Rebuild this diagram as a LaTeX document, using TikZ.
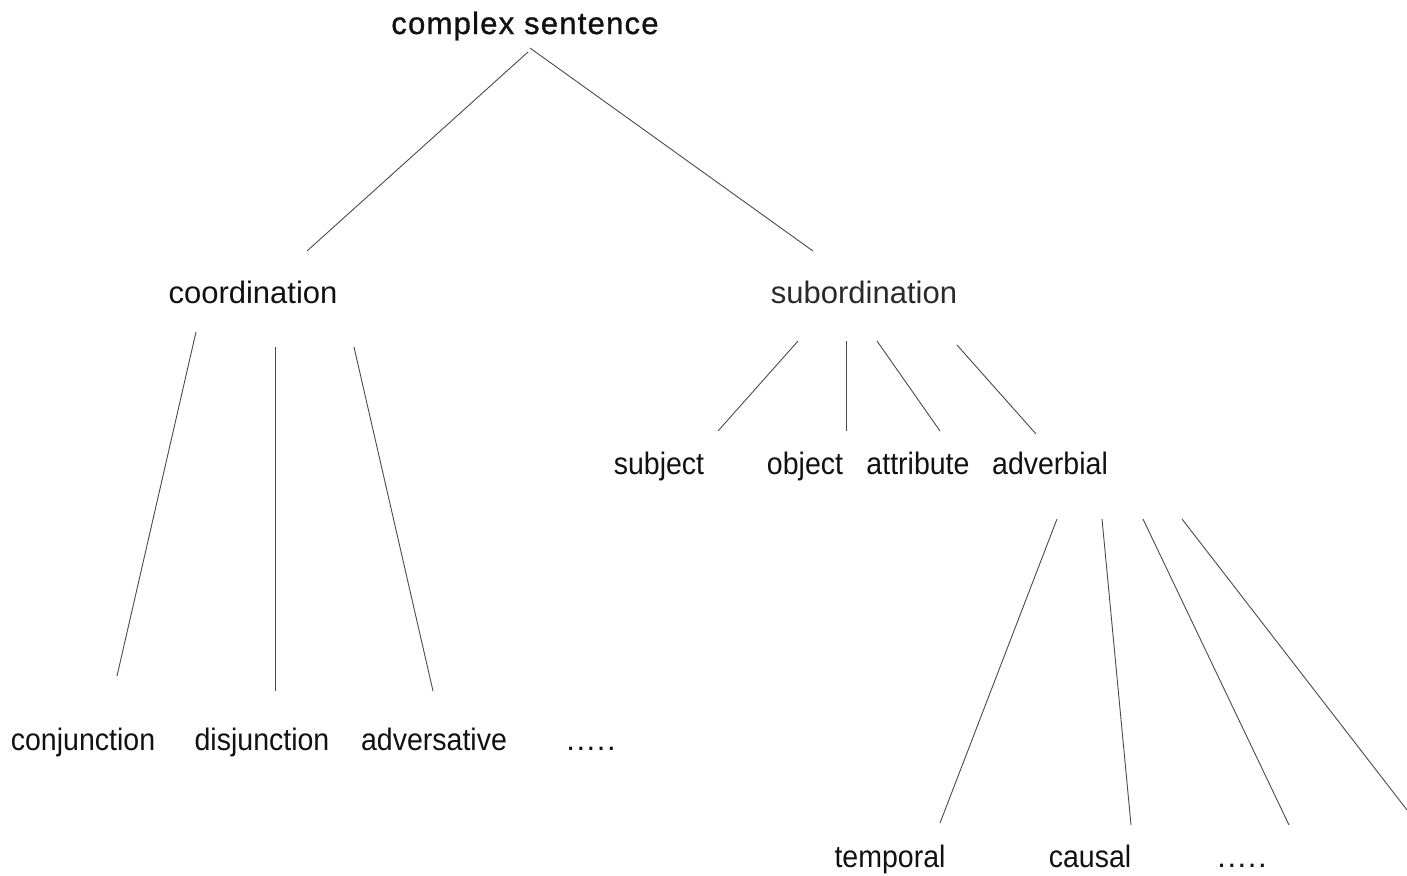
\documentclass[tikz,border=0pt]{standalone}
\usepackage{fontspec}
\setmainfont{Liberation Sans}
\usepackage{xcolor}
\usepackage{tikz}
\usetikzlibrary{positioning}
\definecolor{trInk}{HTML}{111111}
\definecolor{trInkL}{HTML}{2A2A2A}
\definecolor{trEdge}{HTML}{4A4A4A}
\tikzset{
  tr-word/.style={
    font=\fontsize{15.5}{18}\selectfont, text=trInk,
    anchor=base, inner sep=0pt
  },
  tr-head/.style={tr-word, font=\fontsize{15.5}{18}\selectfont\addfontfeature{LetterSpace=4,FakeBold=1}},
  tr-soft/.style={tr-word, text=trInkL},
  tr-leaf/.style={tr-word, font=\fontsize{15.5}{18}\selectfont\addfontfeature{FakeStretch=0.92}},
  tr-dots/.style={tr-word, font=\fontsize{15.5}{18}\selectfont\addfontfeature{LetterSpace=5}},
  tr-edge/.style={draw=trEdge, line width=0.45pt}
}

\begin{document}
\begin{tikzpicture}[x=0.5pt, y=-0.5pt]
\useasboundingbox (0,0) rectangle (1407,875);
% Root and first level
\node[tr-head] (cs) at (525,34) {complex sentence};
\node[tr-word] (coord) at (253,303) {coordination};
\node[tr-soft] (subord) at (864,303) {subordination};
% Kinds of subordinate clause
\foreach \n/\x/\t in {subj/659/subject, obj/805/object, attr/918/attribute, adv/1050/adverbial}{
  \node[tr-leaf] (\n) at (\x,474) {\t};
}
% Kinds of coordination
\foreach \n/\x/\t in {conj/83/conjunction, disj/262/disjunction, advers/434/adversative}{
  \node[tr-leaf] (\n) at (\x,750) {\t};
}
\node[tr-dots] (coord-more) at (591,750) {.....};
% Kinds of adverbial clause
\foreach \n/\x/\t in {temp/890/temporal, caus/1090/causal}{
  \node[tr-leaf] (\n) at (\x,867) {\t};
}
\node[tr-dots] (adv-more) at (1242,867) {.....};
\coordinate (adv-out) at (1407,810);
% Branches
\foreach \a/\ax/\ay/\b/\bx/\by in {
  cs/3/18/coord/54/-52, cs/5/14/subord/-51/-52,
  coord/-57/29/conj/34/-74, coord/22/44/disj/13/-59, coord/101/44/advers/-1/-59,
  subord/-66/38/subj/59/-43, subord/-18/38/obj/41/-43,
  subord/13/38/attr/22/-43, subord/93/42/adv/-14/-40,
  adv/7/45/temp/50/-44, adv/52/45/caus/41/-42, adv/93/45/adv-more/47/-42}{
  \draw[tr-edge] ([shift={(\ax,\ay)}]\a.base) -- ([shift={(\bx,\by)}]\b.base);
}
\draw[tr-edge] ([shift={(132,45)}]adv.base) -- (adv-out);
\end{tikzpicture}
\end{document}
